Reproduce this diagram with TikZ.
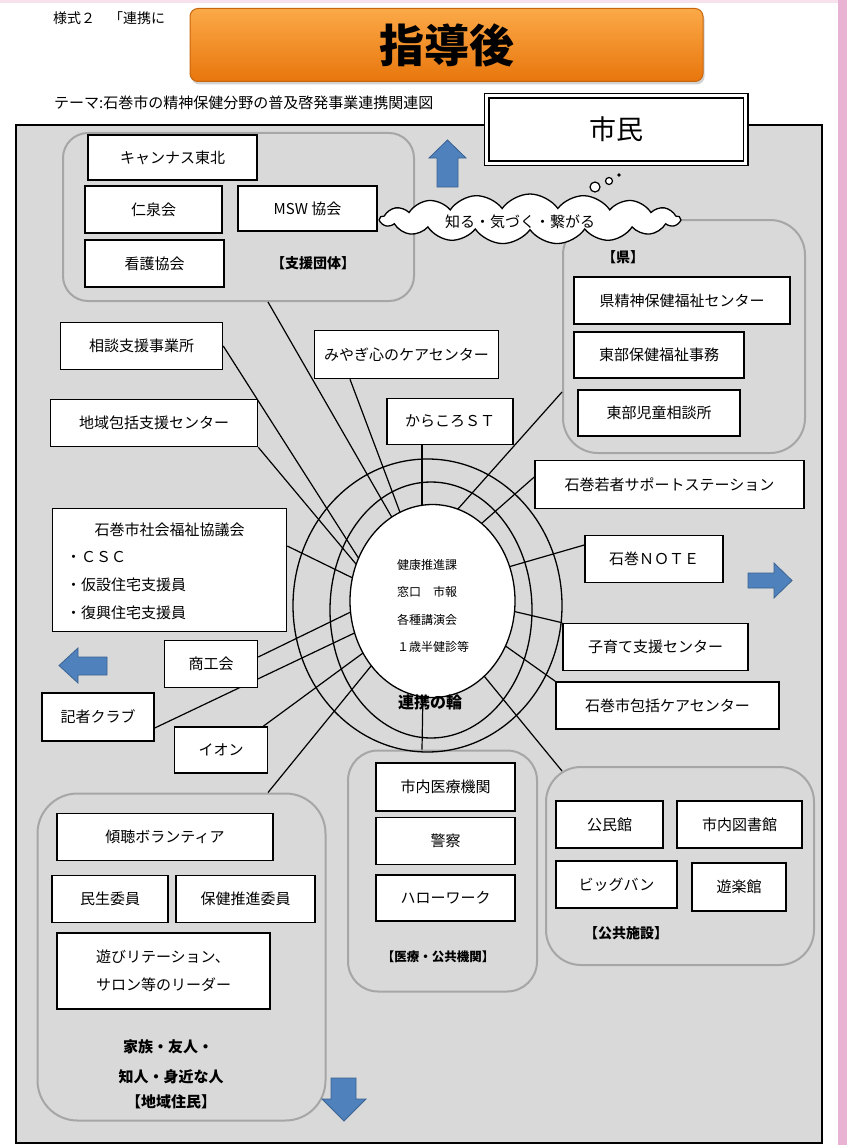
\documentclass[tikz,border=0pt]{standalone}
\usepackage{fontspec}
\setmainfont{Noto Sans CJK JP}
\usetikzlibrary{shapes.symbols,shadows,calc}
\definecolor{bggray}{HTML}{D9D9D9}
\definecolor{grpgray}{HTML}{A6A6A6}
\definecolor{arrowblue}{HTML}{4F81BD}
\definecolor{arrowedge}{HTML}{3A6391}
\definecolor{orT}{HTML}{FBA948}
\definecolor{orB}{HTML}{E8760C}
\definecolor{orEdge}{HTML}{C8660E}
\definecolor{pinkedge}{HTML}{E9B3D3}
\newcommand{\fsz}[1]{\fontsize{#1}{#1}\selectfont}
\pgfdeclarelayer{back}\pgfdeclarelayer{conn}\pgfdeclarelayer{ring}
\pgfsetlayers{back,conn,ring,main}
\begin{document}
\begin{tikzpicture}[x=1pt,y=-1pt,
 box/.style={draw=black, line width=1.5pt, fill=white, inner sep=0pt, font=\fsz{15}},
 grp/.style={draw=grpgray, line width=2pt, rounded corners=#1, fill=bggray, inner sep=0pt},
 grp/.default=30pt,
 link/.style={line width=1.2pt, draw=black},
 ringst/.style={draw=black, line width=1.3pt},
 lbl/.style={font=\fsz{14}\bfseries, inner sep=0pt},
 ctext/.style={font=\fsz{12}, inner sep=0pt, anchor=west},
 bluearrow/.style={fill=arrowblue, draw=arrowedge, line width=0.8pt}]
\useasboundingbox (0,0) rectangle (847,1145);
\begin{pgfonlayer}{back}
 \fill[white] (0,0) rectangle (847,1145);
 \fill[pinkedge] (838,0) rectangle (847,1145);
 \fill[pinkedge!40] (0,0) rectangle (838,3);
 \draw[line width=2.6pt, fill=bggray] (16,125) rectangle (822,1143);
 \node[grp=25pt, minimum width=351pt, minimum height=168pt] (shien) at (238.5,217) {};
 \node[grp=35pt, minimum width=242pt, minimum height=233pt] (ken) at (684,336.5) {};
 \node[grp=40pt, minimum width=288pt, minimum height=327pt] (juumin) at (181.5,957) {};
 \node[grp=30pt, minimum width=189pt, minimum height=241pt] (iryo) at (442.5,871) {};
 \node[grp=35pt, minimum width=268pt, minimum height=198pt] (kokyo) at (680,866) {};
\end{pgfonlayer}

% header
\node[anchor=west, font=\fsz{14}, inner sep=0pt] (yoshiki) at (53,18) {様式２　「連携に};
\node[draw=orEdge, line width=1pt, rounded corners=8pt, top color=orT, bottom color=orB,
  minimum width=513pt, minimum height=73pt,
  drop shadow={opacity=0.35, shadow xshift=1.5pt, shadow yshift=-3pt},
  font=\fsz{45}\bfseries] (title) at (446.5,45) {指導後};
\node[anchor=west, font=\fsz{15}, inner sep=0pt] (theme) at (54,103) {テーマ:石巻市の精神保健分野の普及啓発事業連携関連図};

% citizen box
\node[draw=black, double=white, double distance=3pt, line width=1.5pt, fill=white,
  minimum width=259pt, minimum height=67pt, font=\fsz{27}] (shimin) at (616,129.5) {市民};

% cloud
\node[cloud, cloud puffs=17, cloud puff arc=110, cloud ignores aspect, draw=black, line width=1.3pt,
  fill=white, minimum width=300pt, minimum height=50pt, inner sep=0pt] (cloud) at (530,219) {};
\node[font=\fsz{15}, inner sep=0pt] (cloudtxt) at (520,222) {知る・気づく・繋がる};
\draw[line width=1.2pt, fill=white] (595,187) circle [radius=5pt];
\draw[line width=1.2pt, fill=white] (609,181) circle [radius=3.5pt];
\fill[black] (619,175) circle [radius=1.8pt];

% blue arrows
\path[bluearrow] (447.5,140) -- (466,158) -- (458,158) -- (458,187) -- (437,187) -- (437,158) -- (429,158) -- cycle;
\path[bluearrow] (792,580.5) -- (774,598) -- (774,588) -- (748,588) -- (748,573) -- (774,573) -- (774,563) -- cycle;
\path[bluearrow] (59,665.5) -- (78,648) -- (78,657) -- (107,657) -- (107,675) -- (78,675) -- (78,683) -- cycle;
\path[bluearrow] (344,1121) -- (366,1099) -- (356,1099) -- (356,1078) -- (331,1078) -- (331,1099) -- (322,1099) -- cycle;

% boxes
\node[box, minimum width=169pt, minimum height=45pt] (kyannasu) at (172.5,157.5) {キャンナス東北};
\node[box, minimum width=137pt, minimum height=47pt] (jinsen) at (153.5,209.5) {仁泉会};
\node[box, minimum width=139pt, minimum height=45pt] (msw) at (307.5,208.5) {MSW 協会};
\node[box, minimum width=139pt, minimum height=47pt] (kango) at (154.5,263.5) {看護協会};
\node[lbl] (lblshien) at (313,263) {【支援団体】};

\node[lbl] (lblken) at (623,257) {【県】};
\node[box, minimum width=216pt, minimum height=47pt] (kenseishin) at (682,300.5) {県精神保健福祉センター};
\node[box, minimum width=170pt, minimum height=46pt] (tobu) at (659,355) {東部保健福祉事務};
\node[box, minimum width=162pt, minimum height=46pt] (jidou) at (659,413) {東部児童相談所};

\node[box, minimum width=162pt, minimum height=47pt] (soudan) at (141.5,346) {相談支援事業所};
\node[box, minimum width=207pt, minimum height=47pt] (chiiki) at (154,423) {地域包括支援センター};
\node[box, minimum width=234pt, minimum height=123pt] (shakyo) at (169.5,570) {};
\node[font=\fsz{15}, inner sep=0pt] (shakyo1) at (169.5,530) {石巻市社会福祉協議会};
\node[font=\fsz{15}, inner sep=0pt, anchor=west] (shakyo2) at (66,557) {・ＣＳＣ};
\node[font=\fsz{15}, inner sep=0pt, anchor=west] (shakyo3) at (66,585) {・仮設住宅支援員};
\node[font=\fsz{15}, inner sep=0pt, anchor=west] (shakyo4) at (66,613) {・復興住宅支援員};
\node[box, minimum width=93pt, minimum height=47pt] (shoukou) at (211,664) {商工会};
\node[box, minimum width=112pt, minimum height=48pt] (kisha) at (98,717) {記者クラブ};
\node[box, minimum width=93pt, minimum height=46pt] (aeon) at (221,750) {イオン};

\node[box, minimum width=184pt, minimum height=48pt] (miyagi) at (406.5,354.5) {みやぎ心のケアセンター};
\node[box, minimum width=126pt, minimum height=46pt] (karakoro) at (450,421.5) {からころＳＴ};
\node[box, minimum width=269pt, minimum height=48pt] (wakamono) at (669.5,484.5) {石巻若者サポートステーション};
\node[box, minimum width=138pt, minimum height=47pt] (note) at (654,559) {石巻ＮＯＴＥ};
\node[box, minimum width=185pt, minimum height=47pt] (kosodate) at (655.5,647) {子育て支援センター};
\node[box, minimum width=223pt, minimum height=47pt] (houkatsu) at (667.5,705.5) {石巻市包括ケアセンター};

\node[box, minimum width=216pt, minimum height=47pt] (keichou) at (165,837) {傾聴ボランティア};
\node[box, minimum width=116pt, minimum height=47pt] (minsei) at (110,899) {民生委員};
\node[box, minimum width=139pt, minimum height=47pt] (hokensuishin) at (245.5,899) {保健推進委員};
\node[box, minimum width=213pt, minimum height=76pt, align=left, font=\fontsize{15}{28}\selectfont] (asobi) at (163.5,971) {遊びリテーション、\\サロン等のリーダー};
\node[font=\fsz{15}\bfseries, inner sep=0pt] (juumin1) at (168,1047) {家族・友人・};
\node[font=\fsz{15}\bfseries, inner sep=0pt] (juumin2) at (171,1077) {知人・身近な人};
\node[font=\fsz{15}\bfseries, inner sep=0pt] (juumin3) at (171,1102) {【地域住民】};

\node[box, minimum width=139pt, minimum height=48pt] (iryokikan) at (445.5,787) {市内医療機関};
\node[box, minimum width=139pt, minimum height=47pt] (keisatsu) at (445.5,841) {警察};
\node[box, minimum width=139pt, minimum height=46pt] (hello) at (445.5,898) {ハローワーク};
\node[font=\fsz{12.5}\bfseries, inner sep=0pt] (lbliryo) at (438,957) {【医療・公共機関】};

\node[box, minimum width=107pt, minimum height=47pt] (kominkan) at (609.5,824.5) {公民館};
\node[box, minimum width=125pt, minimum height=47pt] (toshokan) at (739.5,824.5) {市内図書館};
\node[box, minimum width=121pt, minimum height=47pt] (bigbang) at (616.5,884.5) {ビッグバン};
\node[box, minimum width=94pt, minimum height=48pt] (yuurakukan) at (739,887) {遊楽館};
\node[lbl] (lblkokyo) at (626,933) {【公共施設】};

% centre text
\node[ctext] (c1) at (397,565) {健康推進課};
\node[ctext] (c2) at (397,592) {窓口　市報};
\node[ctext] (c3) at (397,620) {各種講演会};
\node[ctext] (c4) at (397,647) {１歳半健診等};
\node[font=\fsz{16}\bfseries, inner sep=0pt] (wa) at (430,702) {連携の輪};

% end points inside the core
\coordinate (e1) at (398,528);
\coordinate (e2) at (404,523);
\coordinate (e3) at (422,520);
\coordinate (e4) at (441,528);
\coordinate (e5) at (465,538);
\coordinate (e6) at (491,572);
\coordinate (e7) at (491,606);
\coordinate (e8) at (490,635);
\coordinate (e9) at (466,654);
\coordinate (e10) at (423,690);
\coordinate (e11) at (380,655);
\coordinate (e12) at (378,642);
\coordinate (e13) at (365,628);
\coordinate (e14) at (363,606);
\coordinate (e15) at (365,584);
\coordinate (e16) at (366,576);
\coordinate (e17) at (368,573);

\begin{pgfonlayer}{conn}
 \draw[link] ($(shien.south)+(29.5,0)$) -- (e1);
 \draw[link] ($(miyagi.south)+(-56.5,0)$) -- (e2);
 \draw[link] ($(karakoro.south)+(-28,0)$) -- (e3);
 \draw[link] ($(ken.west)+(0,55.5)$) -- (e4);
 \draw[link] ($(wakamono.west)+(0,-7.5)$) -- (e5);
 \draw[link] ($(note.west)+(0,-14)$) -- (e6);
 \draw[link] (kosodate.north west) -- (e7);
 \draw[link] (houkatsu.north west) -- (e8);
 \draw[link] ($(kokyo.north west)+(17,5)$) -- (e9);
 \draw[link] ($(iryo.north)+(-20.5,0)$) -- (e10);
 \draw[link] ($(juumin.north)+(86.5,0)$) -- (e11);
 \draw[link] ($(aeon.north east)+(-5,0)$) -- (e12);
 \draw[link] ($(kisha.east)+(0,11)$) -- (e13);
 \draw[link] ($(shoukou.east)+(0,-7)$) -- (e14);
 \draw[link] ($(shakyo.east)+(0,-24)$) -- (e15);
 \draw[link] (chiiki.south east) -- (e16);
 \draw[link] (soudan.east) -- (e17);
\end{pgfonlayer}

\begin{pgfonlayer}{ring}
 \draw[ringst] (427.5,605.5) ellipse [x radius=134.5pt, y radius=146.5pt];
 \draw[ringst] (431,610) ellipse [x radius=101pt, y radius=128pt];
 \draw[ringst, fill=white] (432.5,601) ellipse [x radius=82.5pt, y radius=96.5pt];
\end{pgfonlayer}
\end{tikzpicture}
\end{document}
